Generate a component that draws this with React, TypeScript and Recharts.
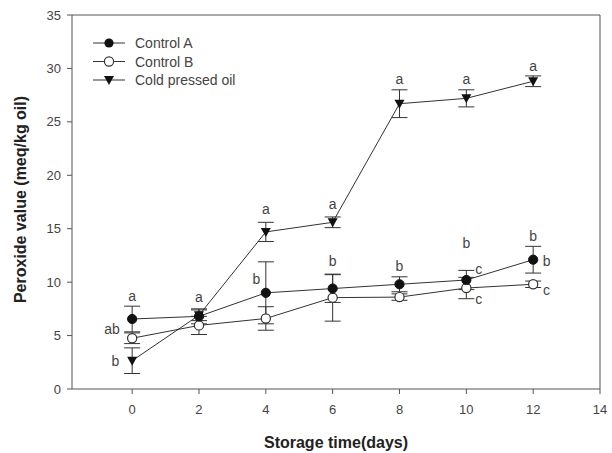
import React from 'react'
import { ComposedChart, Line, ErrorBar, XAxis, YAxis, Scatter, ReferenceLine } from 'recharts'

const days = [0, 2, 4, 6, 8, 10, 12]
const controlA = [6.55, 6.8, 9.0, 9.4, 9.8, 10.2, 12.1]
const controlAErr = [1.2, 0.7, 2.9, 1.3, 0.7, 0.9, 1.25]
const controlB = [4.75, 5.95, 6.6, 8.55, 8.6, 9.45, 9.8]
const controlBErr = [0.5, 0.85, 1.1, 2.2, 0.3, 1.0, 0.3]
const coldPressed = [2.65, 6.9, 14.7, 15.6, 26.7, 27.2, 28.8]
const coldPressedErr = [1.2, 0.5, 0.9, 0.5, 1.3, 0.8, 0.5]

const xTicks = [0, 2, 4, 6, 8, 10, 12, 14]
const yTicks = [0, 5, 10, 15, 20, 25, 30, 35]

// significance letters, placed in data units
const letterDays = [0, -0.6, -0.5, 2, 4, 3.72, 6, 6, 8, 8, 10, 10, 10.37, 10.37, 12, 12, 12.4, 12.4]
const letterValues = [8.75, 5.65, 2.6, 8.6, 16.8, 10.25, 17.35, 11.95, 29.0, 11.5, 29.0, 13.65, 11.25, 8.45, 30.2, 14.3, 11.95, 9.3]
const letterTexts = ['a', 'ab', 'b', 'a', 'a', 'b', 'a', 'b', 'a', 'b', 'a', 'b', 'c', 'c', 'a', 'b', 'b', 'c']

const data = days.map((d, i) => ({
  day: d,
  a: controlA[i],
  aErr: controlAErr[i],
  b: controlB[i],
  bErr: controlBErr[i],
  cold: coldPressed[i],
  coldErr: coldPressedErr[i],
}))

const letters = letterTexts.map((t, i) => ({ day: letterDays[i], value: letterValues[i], text: t }))

const FONT = '"Liberation Sans", Arial, sans-serif'
const INK = '#333'

function filledDot(p: any) {
  return <circle key={`fa-${p.index}`} cx={p.cx} cy={p.cy} r={4.6} fill="#111" stroke="#111" />
}
function openDot(p: any) {
  return <circle key={`ob-${p.index}`} cx={p.cx} cy={p.cy} r={4.6} fill="#fff" stroke="#333" strokeWidth={1.2} />
}
function triDot(p: any) {
  const { cx, cy } = p
  return (
    <path
      key={`tc-${p.index}`}
      d={`M${cx - 5},${cy - 4} L${cx + 5},${cy - 4} L${cx},${cy + 5} Z`}
      fill="#111"
    />
  )
}

function LetterShape(p: any) {
  return (
    <text x={p.cx} y={p.cy} textAnchor="middle" dominantBaseline="central" fontSize={14} fill="#444" fontFamily={FONT}>
      {p.payload.text}
    </text>
  )
}

function YTitle(props: any) {
  const vb = props.viewBox
  const cx = 20
  const cy = vb.y + vb.height / 2 - 2.5
  return (
    <text
      x={cx}
      y={cy}
      transform={`rotate(-90, ${cx}, ${cy})`}
      textAnchor="middle"
      dominantBaseline="central"
      fontSize={16}
      fontWeight="bold"
      fill="#222"
      fontFamily={FONT}
    >
      Peroxide value (meq/kg oil)
    </text>
  )
}

const legendRows = [
  { name: 'Control A', dot: 'filled' },
  { name: 'Control B', dot: 'open' },
  { name: 'Cold pressed oil', dot: 'tri' },
]

function ChartLegend() {
  return (
    <svg width={200} height={60} style={{ position: 'absolute', left: 88, top: 33 }}>
      {legendRows.map((r, i) => {
        const y = 10 + i * 18.5
        const cx = 21
        return (
          <g key={r.name}>
            <line x1={5} x2={37} y1={y} y2={y} stroke={INK} strokeWidth={1} />
            {r.dot === 'filled' && <circle cx={cx} cy={y} r={4.6} fill="#111" />}
            {r.dot === 'open' && <circle cx={cx} cy={y} r={4.6} fill="#fff" stroke={INK} strokeWidth={1.2} />}
            {r.dot === 'tri' && <path d={`M${cx - 5},${y - 4} L${cx + 5},${y - 4} L${cx},${y + 5} Z`} fill="#111" />}
            <text x={47} y={y} dominantBaseline="central" fontSize={14} fill="#444" fontFamily={FONT}>
              {r.name}
            </text>
          </g>
        )
      })}
    </svg>
  )
}

export default function App() {
  return (
    <div style={{ position: 'relative', width: 612, height: 453, background: '#fff' }}>
      <style>{'body{margin:0}'}</style>
      <ComposedChart width={612} height={453} data={data} margin={{ top: 15, right: 12, left: 0, bottom: 0 }}>
        <XAxis
          dataKey="day"
          type="number"
          domain={[-1.8, 14]}
          ticks={xTicks}
          allowDataOverflow
          height={64}
          tickSize={5}
          tickMargin={11}
          stroke="#555"
          tick={{ fontSize: 13, fill: '#444', fontFamily: FONT }}
          label={{
            value: 'Storage time(days)',
            position: 'insideBottom',
            offset: 5.5,
            style: { fontSize: 16, fontWeight: 'bold', fill: '#222', fontFamily: FONT },
          }}
        />
        <YAxis
          type="number"
          domain={[0, 35]}
          ticks={yTicks}
          allowDataOverflow
          width={72}
          tickSize={5}
          tickMargin={6}
          stroke="#555"
          tick={{ fontSize: 13, fill: '#444', fontFamily: FONT }}
          label={<YTitle />}
        />
        <ReferenceLine y={35} stroke="#555" />
        <ReferenceLine x={14} stroke="#555" />
        <Line dataKey="b" type="linear" stroke={INK} strokeWidth={1} dot={openDot} isAnimationActive={false}>
          <ErrorBar dataKey="bErr" width={8} stroke={INK} strokeWidth={1} />
        </Line>
        <Line dataKey="cold" type="linear" stroke={INK} strokeWidth={1} dot={triDot} isAnimationActive={false}>
          <ErrorBar dataKey="coldErr" width={8} stroke={INK} strokeWidth={1} />
        </Line>
        <Line dataKey="a" type="linear" stroke={INK} strokeWidth={1} dot={filledDot} isAnimationActive={false}>
          <ErrorBar dataKey="aErr" width={8} stroke={INK} strokeWidth={1} />
        </Line>
        <Scatter data={letters} dataKey="value" shape={LetterShape} isAnimationActive={false} legendType="none" />
      </ComposedChart>
      <ChartLegend />
    </div>
  )
}
